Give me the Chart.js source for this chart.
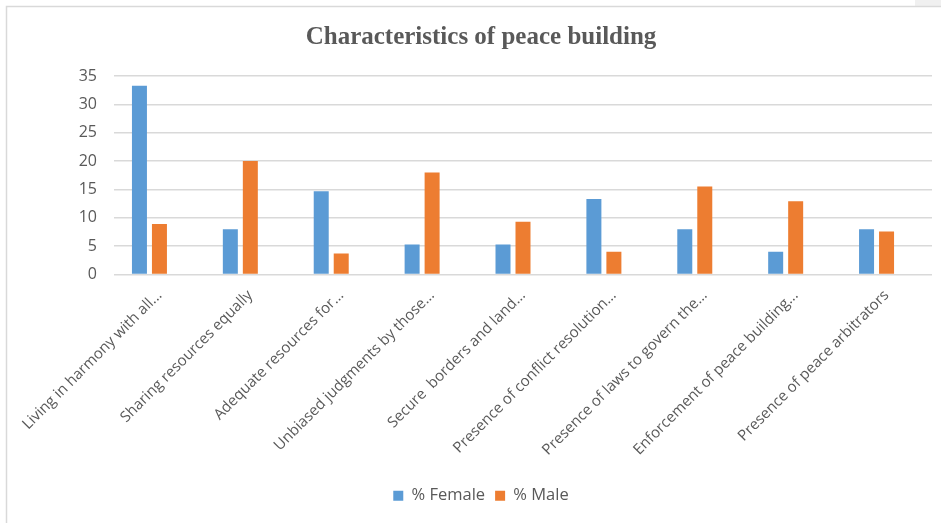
<!DOCTYPE html>
<html>
<head>
<meta charset="utf-8">
<script src="https://cdn.jsdelivr.net/npm/chart.js@4/dist/chart.umd.min.js"></script>
<style>
  html, body { margin: 0; padding: 0; background: #ffffff; }
  #wrap { position: relative; width: 941px; height: 523px; overflow: hidden; }
  canvas { position: absolute; left: 0; top: 0; }
</style>
</head>
<body>
<div id="wrap"><canvas id="c" width="941" height="523"></canvas></div>
<script>
const chartTitle = "Characteristics of peace building";
const categories = [
  "Living in harmony with all...",
  "Sharing resources equally",
  "Adequate resources for...",
  "Unbiased judgments by those...",
  "Secure  borders and land...",
  "Presence of conflict resolution...",
  "Presence of laws to govern the...",
  "Enforcement of peace building...",
  "Presence of peace arbitrators"
];
const seriesNames = ["% Female", "% Male"];
const femaleValues = [33.3, 8.0, 14.7, 5.3, 5.3, 13.3, 8.0, 4.0, 8.0];
const maleValues = [8.9, 20.0, 3.7, 18.0, 9.3, 4.0, 15.5, 12.9, 7.6];
const emptySeries = [null, null, null, null, null, null, null, null, null];
const yTicks = [0, 5, 10, 15, 20, 25, 30, 35];

const textGray = "#595959";

const framePlugin = {
  id: "frame",
  beforeDraw(chart) {
    const ctx = chart.ctx;
    ctx.save();
    ctx.fillStyle = "#ffffff";
    ctx.fillRect(0, 0, chart.width, chart.height);
    ctx.fillStyle = "#F0F0F0";
    ctx.fillRect(915, 0, 26, 6);
    ctx.strokeStyle = "#D9D9D9";
    ctx.lineWidth = 1.5;
    ctx.beginPath();
    ctx.moveTo(6.5, chart.height);
    ctx.lineTo(6.5, 6.5);
    ctx.lineTo(chart.width, 6.5);
    ctx.stroke();
    ctx.restore();
  }
};

new Chart(document.getElementById("c"), {
  type: "bar",
  data: {
    labels: categories,
    datasets: [
      { label: seriesNames[0], data: femaleValues, backgroundColor: "#5B9BD5", borderWidth: 0 },
      { label: seriesNames[1], data: maleValues, backgroundColor: "#ED7D31", borderWidth: 0 },
      { label: "", data: emptySeries, backgroundColor: "rgba(0,0,0,0)", borderWidth: 0 }
    ]
  },
  options: {
    responsive: false,
    animation: false,
    devicePixelRatio: 1,
    datasets: { bar: { categoryPercentage: 0.66, barPercentage: 0.75 } },
    layout: { padding: { left: 30, right: 9, top: 0, bottom: 9 } },
    plugins: {
      title: {
        display: true,
        text: chartTitle,
        color: textGray,
        font: { family: "'Liberation Serif', 'Times New Roman', serif", size: 25, weight: "bold" },
        padding: { top: 23, bottom: 23 }
      },
      legend: {
        position: "bottom",
        labels: {
          color: textGray,
          font: { family: "'Open Sans', sans-serif", size: 16.5 },
          boxWidth: 10,
          boxHeight: 10,
          padding: 10,
          filter: (item) => item.datasetIndex < 2
        }
      },
      tooltip: { enabled: false }
    },
    scales: {
      x: {
        grid: { display: false },
        border: { display: false },
        ticks: {
          color: textGray,
          font: { family: "'Open Sans', sans-serif", size: 15 },
          maxRotation: 45,
          minRotation: 45,
          autoSkip: false,
          padding: 4
        },
        afterFit(scale) { scale.height = 203; }
      },
      y: {
        min: 0,
        max: 35,
        afterBuildTicks(scale) { scale.ticks = yTicks.map(v => ({ value: v })); },
        grid: { color: "#D9D9D9", lineWidth: 1.5, drawTicks: false },
        border: { display: false },
        ticks: {
          color: textGray,
          font: { family: "'Open Sans', sans-serif", size: 16 },
          padding: 17
        },
        afterFit(scale) { scale.width = 84; }
      }
    }
  },
  plugins: [framePlugin]
});
</script>
</body>
</html>
